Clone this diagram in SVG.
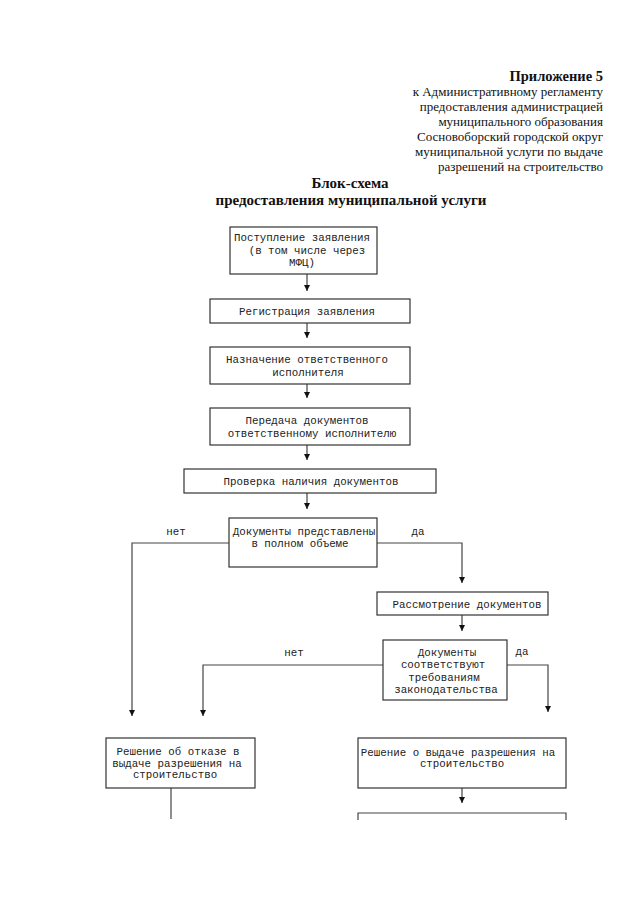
<svg xmlns="http://www.w3.org/2000/svg" width="639" height="905" viewBox="0 0 639 905">
<style>
.hdr{font-family:"Liberation Serif",serif;font-size:13px;fill:#111;text-anchor:end}
.ttl{font-family:"Liberation Serif",serif;font-size:15px;font-weight:bold;fill:#111;text-anchor:middle}
.box{fill:#fff;stroke:#333;stroke-width:1.2}
.t{font-family:"Liberation Mono",monospace;font-size:10.8px;fill:#222;text-anchor:middle}
.c{fill:none;stroke:#444;stroke-width:1.2}
</style>
<defs>
<marker id="ah" markerUnits="userSpaceOnUse" viewBox="0 0 6 6" refX="6" refY="3" markerWidth="6" markerHeight="6" orient="auto">
<path d="M0,0 L6,3 L0,6 z" fill="#111"/>
</marker>
</defs>
<rect width="639" height="905" fill="#fff"/>
<g id="header">
<text class="hdr" x="603" y="81" style="font-weight:bold;font-size:14.5px">Приложение 5</text>
<text class="hdr" x="603" y="96">к Административному регламенту</text>
<text class="hdr" x="603" y="111">предоставления администрацией</text>
<text class="hdr" x="603" y="126">муниципального образования</text>
<text class="hdr" x="603" y="141">Сосновоборский городской округ</text>
<text class="hdr" x="603" y="156">муниципальной услуги по выдаче</text>
<text class="hdr" x="603" y="171">разрешений на строительство</text>
<text class="ttl" x="350" y="188">Блок-схема</text>
<text class="ttl" x="351" y="205">предоставления муниципальной услуги</text>
</g>
<g id="connectors">
<line class="c" x1="307" y1="274" x2="307" y2="291" marker-end="url(#ah)"/>
<line class="c" x1="307" y1="323" x2="307" y2="338" marker-end="url(#ah)"/>
<line class="c" x1="307" y1="384" x2="307" y2="398" marker-end="url(#ah)"/>
<line class="c" x1="307" y1="445" x2="307" y2="460" marker-end="url(#ah)"/>
<line class="c" x1="307" y1="493" x2="307" y2="509" marker-end="url(#ah)"/>
<polyline class="c" points="229,543 132,543 132,716" marker-end="url(#ah)"/>
<polyline class="c" points="377,543 462,543 462,583" marker-end="url(#ah)"/>
<line class="c" x1="462" y1="615" x2="462" y2="631" marker-end="url(#ah)"/>
<polyline class="c" points="383,665 203,665 203,716" marker-end="url(#ah)"/>
<polyline class="c" points="507,665 548,665 548,712" marker-end="url(#ah)"/>
<line class="c" x1="171" y1="788" x2="171" y2="819"/>
<line class="c" x1="462" y1="788" x2="462" y2="803" marker-end="url(#ah)"/>
<text class="t" x="176" y="535">нет</text>
<text class="t" x="418" y="535">да</text>
<text class="t" x="294" y="656">нет</text>
<text class="t" x="522" y="655">да</text>
</g>
<g id="n1">
<rect class="box" x="230" y="227" width="147" height="47"/>
<text class="t" x="302" y="241">Поступление заявления</text>
<text class="t" x="307" y="253.5">(в том числе через</text>
<text class="t" x="302" y="266">МФЦ)</text>
</g>
<g id="n2">
<rect class="box" x="210" y="299" width="200" height="24"/>
<text class="t" x="307" y="315">Регистрация заявления</text>
</g>
<g id="n3">
<rect class="box" x="210" y="347" width="200" height="37"/>
<text class="t" x="307" y="363">Назначение ответственного</text>
<text class="t" x="308" y="375.5">исполнителя</text>
</g>
<g id="n4">
<rect class="box" x="210" y="408" width="200" height="37"/>
<text class="t" x="307" y="423.5">Передача документов</text>
<text class="t" x="312" y="436.5">ответственному исполнителю</text>
</g>
<g id="n5">
<rect class="box" x="184" y="469" width="252" height="24"/>
<text class="t" x="311" y="485">Проверка наличия документов</text>
</g>
<g id="n6">
<rect class="box" x="229" y="518" width="148" height="49"/>
<text class="t" x="304" y="535">Документы представлены</text>
<text class="t" x="300" y="546.5">в полном объеме</text>
</g>
<g id="n7">
<rect class="box" x="377" y="592" width="171" height="23"/>
<text class="t" x="467" y="607.5">Рассмотрение документов</text>
</g>
<g id="n8">
<rect class="box" x="383" y="640" width="124" height="60"/>
<text class="t" x="447" y="655.5">Документы</text>
<text class="t" x="443" y="668">соответствуют</text>
<text class="t" x="444" y="680.5">требованиям</text>
<text class="t" x="446" y="693">законодательства</text>
</g>
<g id="n9">
<rect class="box" x="106" y="738" width="149" height="50"/>
<text class="t" x="178" y="754.5">Решение об отказе в</text>
<text class="t" x="177" y="766.5">выдаче разрешения на</text>
<text class="t" x="175" y="778">строительство</text>
</g>
<g id="n10">
<rect class="box" x="358" y="738" width="208" height="50"/>
<text class="t" x="458" y="755.5">Решение о выдаче разрешения на</text>
<text class="t" x="462" y="767">строительство</text>
</g>
<g id="n11">
<path class="c" d="M358,820 L358,813 L566,813 L566,820"/>
</g>
</svg>
